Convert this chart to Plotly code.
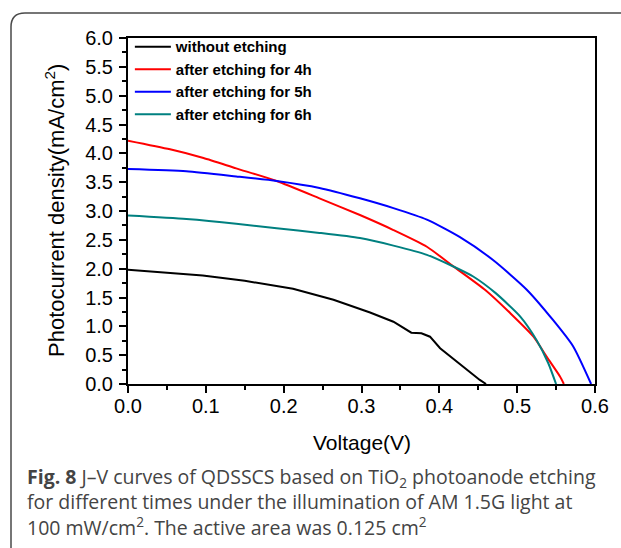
import plotly.graph_objects as go

# ---- data ----
v_none = [0, 0.05, 0.096, 0.15, 0.212, 0.264, 0.298, 0.311, 0.341, 0.364, 0.377, 0.388, 0.401, 0.422, 0.444, 0.452, 0.46]
j_none = [1.98, 1.93, 1.88, 1.79, 1.65, 1.46, 1.31, 1.24, 1.08, 0.89, 0.88, 0.82, 0.62, 0.39, 0.16, 0.07, 0.0]

v_4h = [0, 0.054, 0.097, 0.139, 0.191, 0.246, 0.298, 0.341, 0.384, 0.418, 0.459, 0.491, 0.521, 0.538, 0.555, 0.56]
j_4h = [4.22, 4.07, 3.92, 3.74, 3.52, 3.22, 2.93, 2.67, 2.38, 2.04, 1.63, 1.23, 0.82, 0.47, 0.13, 0.0]

v_5h = [0, 0.075, 0.139, 0.191, 0.246, 0.298, 0.341, 0.384, 0.426, 0.469, 0.512, 0.546, 0.572, 0.595]
j_5h = [3.73, 3.69, 3.60, 3.52, 3.40, 3.22, 3.05, 2.85, 2.55, 2.15, 1.64, 1.11, 0.65, 0.0]

v_6h = [0, 0.075, 0.139, 0.191, 0.246, 0.298, 0.341, 0.384, 0.416, 0.444, 0.472, 0.504, 0.525, 0.540, 0.550]
j_6h = [2.92, 2.86, 2.78, 2.70, 2.62, 2.53, 2.40, 2.24, 2.05, 1.86, 1.58, 1.17, 0.76, 0.36, 0.0]

names = ["without etching", "after etching for 4h", "after etching for 5h", "after etching for 6h"]
colors = ["#000000", "#FF0000", "#0000FF", "#008080"]

x_ticks = [0.0, 0.1, 0.2, 0.3, 0.4, 0.5, 0.6]
y_ticks = [0.0, 0.5, 1.0, 1.5, 2.0, 2.5, 3.0, 3.5, 4.0, 4.5, 5.0, 5.5, 6.0]

caption = ("<b>Fig. 8</b> J–V curves of QDSSCS based on TiO<sub>2</sub> photoanode etching<br>"
           "for different times under the illumination of AM 1.5G light at<br>"
           "100 mW/cm<sup>2</sup>. The active area was 0.125 cm<sup>2</sup>")

# ---- figure ----
W, H = 621, 548
L, R, T, B = 128, 26, 38, 164
PW, PH = W - L - R, H - T - B

def px(x):
    return (x - L) / PW

def py(y):
    return (H - B - y) / PH

fig = go.Figure()
series = [(v_none, j_none), (v_4h, j_4h), (v_5h, j_5h), (v_6h, j_6h)]
for (vx, jy), nm, c in zip(series, names, colors):
    fig.add_trace(go.Scatter(
        x=vx, y=jy, name=nm, mode="lines",
        line=dict(color=c, width=2, shape="linear" if c == "#000000" else "spline", smoothing=0.6),
    ))

axis_font = dict(family="Liberation Sans, Arial", size=20, color="#000000")
fig.update_xaxes(
    range=[0, 0.6], tickvals=x_ticks, ticktext=[f"{v:.1f}" for v in x_ticks],
    showline=True, linecolor="#000000", linewidth=2, mirror=True,
    ticks="outside", ticklen=7, tickwidth=2, tickcolor="#000000",
    minor=dict(dtick=0.05, ticks="outside", ticklen=4, tickwidth=2, tickcolor="#000000", showgrid=False),
    showgrid=False, zeroline=False, tickfont=axis_font, ticklabelstandoff=-4,
)
fig.update_yaxes(
    range=[0, 6], tickvals=y_ticks, ticktext=[f"{v:.1f}" for v in y_ticks],
    showline=True, linecolor="#000000", linewidth=2, mirror=True,
    ticks="outside", ticklen=7, tickwidth=2, tickcolor="#000000",
    minor=dict(dtick=0.25, ticks="outside", ticklen=4, tickwidth=2, tickcolor="#000000", showgrid=False),
    showgrid=False, zeroline=False, tickfont=axis_font, ticklabelstandoff=2,
)

# rounded outer frame (extends past the right/bottom edge like the reference)
x0, y0, x1, y1, r = 11, 13, 660, 562, 14
path = (f"M {px(x1)},{py(y0)} L {px(x0 + r)},{py(y0)} "
        f"Q {px(x0)},{py(y0)} {px(x0)},{py(y0 + r)} "
        f"L {px(x0)},{py(y1 - r)} Q {px(x0)},{py(y1)} {px(x0 + r)},{py(y1)} L {px(x1)},{py(y1)}")
fig.add_shape(type="path", path=path, xref="paper", yref="paper",
              line=dict(color="#4a4a4a", width=1.5), layer="below")

fig.add_annotation(x=px(55), y=0.5, xref="paper", yref="paper", showarrow=False,
                   text="Photocurrent density(mA/cm<sup>2</sup>)", textangle=-90,
                   font=dict(family="Liberation Sans, Arial", size=22, color="#000000"),
                   xanchor="center", yanchor="middle")
fig.add_annotation(x=0.5, y=py(443), xref="paper", yref="paper", showarrow=False,
                   text="Voltage(V)",
                   font=dict(family="Liberation Sans, Arial", size=21, color="#000000"),
                   xanchor="center", yanchor="middle")
fig.add_annotation(x=px(25), y=py(502), xref="paper", yref="paper", showarrow=False,
                   text=caption, align="left",
                   font=dict(family="Open Sans", size=19.5, color="#444444"),
                   xanchor="left", yanchor="middle")

fig.update_layout(
    width=W, height=H,
    margin=dict(l=L, r=R, t=T, b=B, autoexpand=False),
    paper_bgcolor="#ffffff", plot_bgcolor="#ffffff",
    showlegend=True,
    legend=dict(x=0.004, y=1.022, xanchor="left", yanchor="top",
                bgcolor="rgba(0,0,0,0)", borderwidth=0, itemwidth=36,
                font=dict(family="Liberation Sans, Arial", size=15, color="#000000", weight="bold"),
                tracegroupgap=0),
)

fig.write_html("out.html", config={"displayModeBar": False},
               post_script="document.body.style.margin='0';")
